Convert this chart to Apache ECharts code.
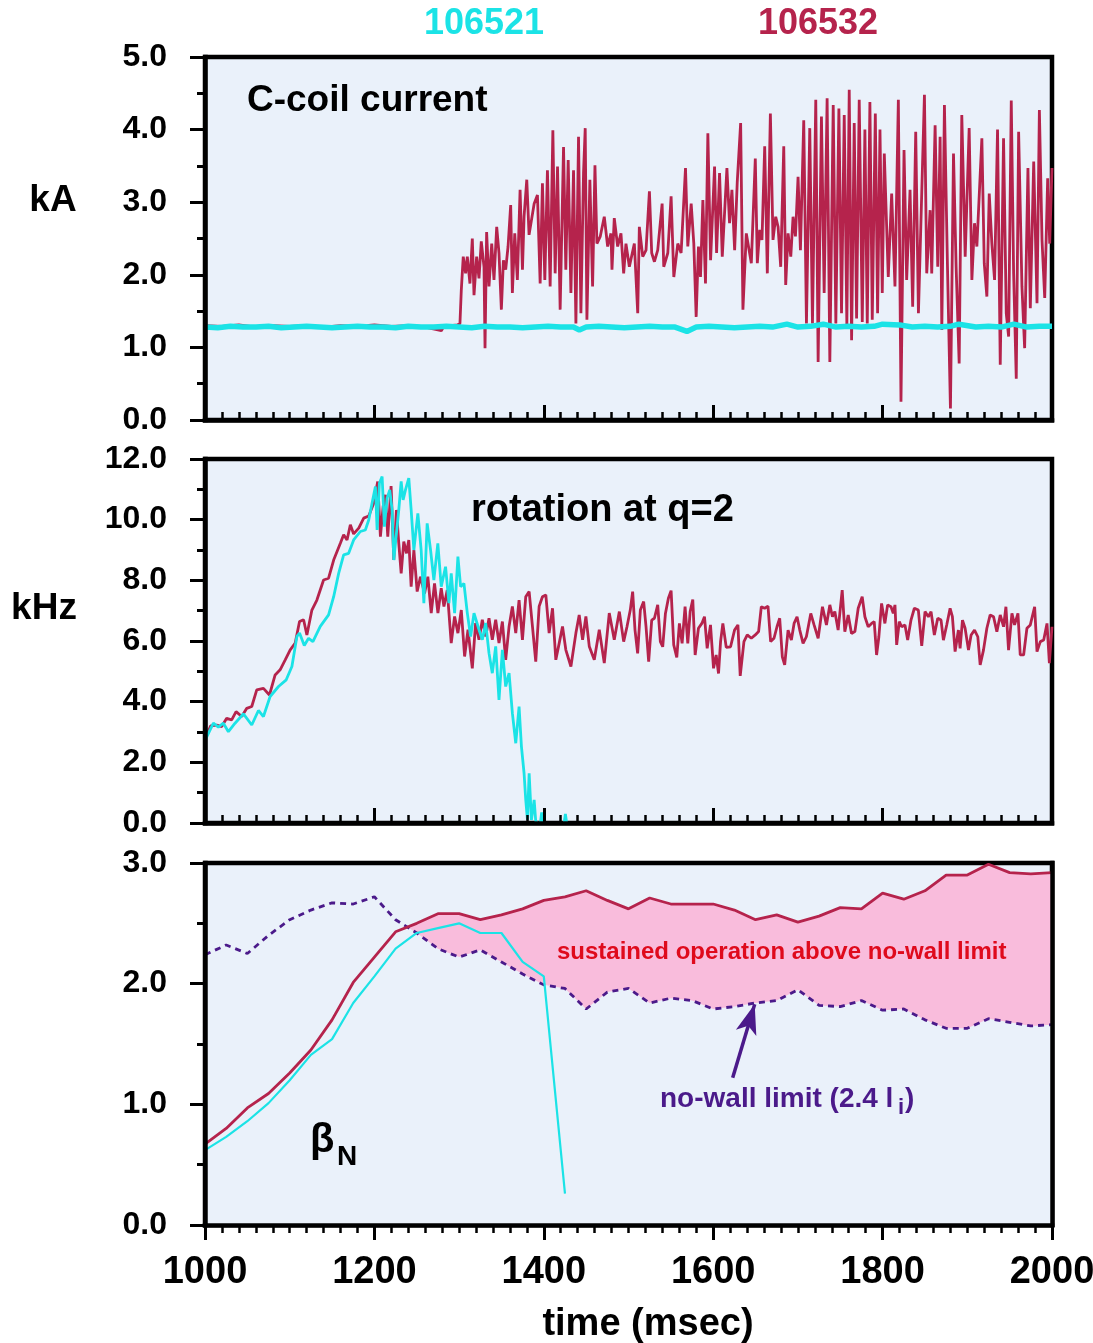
<!DOCTYPE html>
<html>
<head>
<meta charset="utf-8">
<title>C-coil current / rotation / beta_N</title>
<script src="https://cdn.jsdelivr.net/npm/echarts@6/dist/echarts.min.js"></script>
<style>
  html, body { margin: 0; padding: 0; background: #fff; }
  #main { width: 1093px; height: 1343px; }
</style>
</head>
<body>
<div id="main"></div>
<script>
// 炮号颜色
const RED = '#B5234C'
const CYAN = '#1BE3E6'
const PURPLE = '#4B1A8A'
const PANEL_BG = '#EAF1FA'
const FONT = '"Liberation Sans", Arial, Helvetica, sans-serif'

// ---- C-coil current (kA) ----
const coilT532 = [1000, 1020, 1040, 1060, 1080, 1100, 1120, 1140, 1160, 1180, 1200, 1220, 1240, 1260, 1279, 1282, 1298,
  1301.0, 1302.6, 1304.9, 1307.7, 1309.7, 1312.8, 1315.6, 1317.6, 1320.7, 1323.5, 1326.2, 1329.4, 1330.6, 1332.5, 1335.3,
  1338.5, 1341.2, 1344.4, 1347.1, 1349.9, 1352.3, 1355.0, 1357.8, 1360.9, 1362.9, 1365.7, 1368.8, 1372.0, 1374.8, 1376.7,
  1379.9, 1382.6, 1385.4, 1388.6, 1392.5, 1395.7, 1398.4, 1401.2, 1404.3, 1407.5, 1410.7, 1413.4, 1416.2, 1419.3, 1423.3,
  1426.0, 1428.8, 1432.0, 1435.1, 1437.9, 1441.0, 1443.8, 1446.9, 1448.9, 1450.9, 1454.4, 1457.6, 1460.4, 1462.7, 1466.7,
  1471.4, 1475.4, 1479.3, 1480.5, 1483.2, 1487.2, 1491.1, 1494.3, 1497.0, 1501.0, 1506.9, 1510.9, 1512.8, 1516.8, 1520.7,
  1524.7, 1527.4, 1530.6, 1534.5, 1539.7, 1541.6, 1546.4, 1550.3, 1553.5, 1558.2, 1562.1, 1567.3, 1570.0, 1574.0, 1577.1,
  1579.9, 1582.6, 1585.0, 1587.8, 1590.9, 1593.7, 1596.9, 1601.6, 1604.0, 1607.5, 1610.7, 1616.2, 1619.3, 1622.1, 1625.3,
  1628.4, 1632.4, 1635.1, 1639.1, 1645.0, 1649.7, 1652.1, 1654.9, 1657.6, 1660.8, 1663.9, 1667.5, 1670.6, 1673.8, 1676.6,
  1679.7, 1683.3, 1685.6, 1688.4, 1691.6, 1694.3, 1697.1, 1700.2, 1703.0, 1706.9, 1710.1, 1714.0, 1717.2, 1721.1, 1723.9,
  1727.8, 1731.0, 1734.5, 1737.7, 1741.7, 1744.8, 1748.4, 1751.5, 1754.7, 1757.8, 1760.6, 1763.4, 1766.5, 1769.3, 1772.4,
  1776.0, 1779.1, 1781.9, 1785.0, 1787.8, 1791.4, 1794.1, 1796.9, 1799.6, 1802.0, 1806.7, 1810.7, 1814.6, 1818.6, 1821.7,
  1825.3, 1828.4, 1832.4, 1835.5, 1839.1, 1842.3, 1849.4, 1852.1, 1856.1, 1858.0, 1862.0, 1865.1, 1867.9, 1869.9, 1873.0,
  1876.6, 1880.1, 1883.7, 1886.8, 1890.4, 1893.5, 1897.5, 1902.2, 1905.4, 1908.5, 1911.3, 1917.2, 1920.0, 1923.1, 1925.9,
  1929.0, 1932.2, 1935.7, 1938.9, 1942.8, 1946.0, 1948.8, 1951.9, 1954.7, 1957.8, 1960.6, 1964.5, 1967.7, 1971.6, 1974.4,
  1978.4, 1982.3, 1985.1, 1988.2, 1991.4, 1994.9, 1997.3, 2000]
const coilKA532 = [1.30, 1.29, 1.31, 1.28, 1.30, 1.29, 1.30, 1.28, 1.30, 1.29, 1.31, 1.29, 1.30, 1.28, 1.23, 1.29, 1.31,
  1.33, 1.79, 2.25, 2.02, 2.25, 1.88, 2.50, 1.72, 2.25, 1.95, 2.46, 2.11, 0.99, 2.59, 1.84,
  2.43, 1.93, 2.66, 2.30, 1.52, 2.20, 2.07, 2.39, 2.96, 1.75, 2.57, 1.93, 3.17, 2.07, 2.80,
  3.31, 2.55, 2.75, 2.98, 3.10, 1.88, 3.26, 1.93, 3.44, 1.84, 3.99, 2.02, 3.49, 1.52, 3.76,
  2.07, 3.58, 1.75, 3.44, 1.33, 3.90, 1.47, 3.40, 4.02, 1.38, 3.31, 1.84, 3.51, 2.43, 2.53,
  2.80, 2.39, 2.57, 2.07, 2.78, 2.39, 2.57, 2.02, 2.43, 2.11, 2.43, 1.47, 2.66, 2.25, 2.34,
  3.15, 2.30, 2.18, 2.34, 2.98, 2.11, 2.30, 3.08, 1.97, 2.43, 2.30, 3.47, 2.39, 2.98, 2.43,
  1.42, 2.39, 1.97, 3.03, 1.88, 3.95, 2.20, 3.49, 2.30, 3.40, 2.25, 3.47, 2.71, 3.17, 2.34,
  3.28, 4.09, 1.52, 2.57, 2.16, 3.60, 2.16, 2.62, 2.48, 3.77, 2.02, 4.22, 2.48, 2.80, 2.66,
  2.11, 3.77, 1.86, 2.57, 2.25, 2.80, 2.53, 3.35, 2.34, 4.13, 1.33, 4.02, 1.33, 4.41, 0.80,
  4.18, 1.75, 4.43, 0.80, 4.34, 1.33, 4.29, 1.47, 4.20, 1.31, 4.55, 1.10, 4.09, 1.40, 4.41,
  1.35, 4.00, 1.33, 4.38, 1.38, 4.22, 1.47, 4.00, 1.75, 3.67, 1.97, 3.12, 1.84, 4.41, 0.25,
  3.72, 1.93, 3.17, 1.56, 3.97, 1.47, 4.48, 2.02, 2.89, 2.02, 4.06, 2.11, 3.90, 1.24, 4.34,
  2.11, 0.16, 3.67, 2.11, 0.78, 4.20, 2.25, 4.02, 1.93, 2.71, 2.39, 3.88, 2.16, 1.70, 3.12,
  2.43, 1.93, 4.00, 0.76, 3.88, 1.47, 1.15, 4.40, 2.02, 0.57, 3.97, 1.84, 0.99, 3.47, 1.54,
  3.56, 1.61, 4.27, 2.48, 1.68, 3.33, 2.43, 3.47]

const coilT521 = [1000, 1015, 1030, 1045, 1060, 1075, 1090, 1105, 1120, 1135, 1150, 1165, 1180, 1195, 1210, 1225, 1240,
  1255, 1270, 1285, 1300, 1315, 1330, 1345, 1360, 1375, 1390, 1405, 1420, 1435, 1442, 1450, 1465, 1480, 1495, 1510,
  1525, 1540, 1555, 1569, 1580, 1595, 1610, 1625, 1640, 1655, 1670, 1687, 1700, 1715, 1730, 1745, 1760, 1775, 1790,
  1800, 1820, 1835, 1850, 1865, 1880, 1890, 1910, 1925, 1940, 1955, 1970, 1985, 2000]
const coilKA521 = [1.28, 1.27, 1.29, 1.28, 1.28, 1.29, 1.27, 1.28, 1.29, 1.28, 1.27, 1.28, 1.29, 1.28, 1.28, 1.27, 1.29,
  1.28, 1.28, 1.29, 1.28, 1.27, 1.29, 1.28, 1.28, 1.27, 1.28, 1.29, 1.28, 1.28, 1.24, 1.28, 1.29, 1.28, 1.27, 1.28,
  1.29, 1.28, 1.28, 1.22, 1.28, 1.29, 1.28, 1.27, 1.28, 1.29, 1.28, 1.32, 1.28, 1.29, 1.32, 1.28, 1.29, 1.28, 1.29,
  1.32, 1.31, 1.28, 1.29, 1.28, 1.29, 1.32, 1.28, 1.29, 1.28, 1.32, 1.28, 1.29, 1.29]

// ---- rotation at q=2 (kHz) ----
const rotT532 = [1001.2, 1006.7, 1013.8, 1019.7, 1025.6, 1031.5, 1036.7, 1043.4, 1049.3, 1055.2, 1061.1, 1069.0, 1076.1,
  1082.8, 1088.7, 1094.7, 1100.6, 1106.5, 1111.6, 1116.4, 1120.3, 1126.2, 1132.1, 1140.0, 1145.9, 1151.9, 1159.8, 1163.7,
  1167.7, 1171.6, 1175.5, 1181.5, 1187.4, 1193.3, 1199.2, 1203.9, 1207.1, 1210.3, 1213.0, 1215.8, 1219.7, 1222.9, 1226.0,
  1228.8, 1231.6, 1234.7, 1237.9, 1240.6, 1243.4, 1246.6, 1250.5, 1254.4, 1259.2, 1263.1, 1267.1, 1271.0, 1275.0, 1278.9,
  1282.1, 1286.0, 1290.7, 1294.7, 1298.6, 1302.6, 1306.5, 1310.5, 1315.6, 1319.5, 1323.5, 1327.4, 1331.4, 1335.3, 1339.2,
  1343.2, 1347.1, 1351.1, 1355.0, 1359.0, 1362.9, 1366.9, 1370.8, 1374.8, 1378.7, 1382.7, 1386.6, 1390.5, 1394.5, 1398.4,
  1402.4, 1406.3, 1410.3, 1414.2, 1418.2, 1422.1, 1426.0, 1432.0, 1437.9, 1441.8, 1445.8, 1449.7, 1453.7, 1459.6, 1465.5,
  1471.4, 1477.3, 1483.2, 1489.2, 1494.3, 1498.2, 1502.1, 1504.9, 1507.7, 1510.8, 1514.0, 1517.9, 1520.7, 1523.8, 1527.4,
  1530.6, 1534.5, 1537.6, 1540.4, 1543.6, 1547.1, 1550.3, 1553.4, 1557.0, 1560.1, 1563.3, 1566.8, 1570.0, 1572.8, 1575.9,
  1578.7, 1582.6, 1586.6, 1589.7, 1592.9, 1596.8, 1600.4, 1603.5, 1606.3, 1608.7, 1611.4, 1615.4, 1620.5, 1625.2, 1629.2,
  1631.9, 1636.3, 1640.2, 1645.0, 1649.7, 1653.6, 1656.8, 1660.7, 1664.7, 1667.8, 1671.8, 1675.3, 1678.5, 1681.6, 1684.4,
  1688.4, 1692.3, 1695.5, 1699.0, 1702.2, 1706.1, 1710.0, 1715.2, 1719.1, 1723.9, 1729.0, 1733.7, 1737.7, 1740.8, 1743.6,
  1747.5, 1749.5, 1752.3, 1755.4, 1759.4, 1763.3, 1767.3, 1771.2, 1775.9, 1779.1, 1783.0, 1787.0, 1790.1, 1792.9, 1795.6,
  1798.8, 1802.7, 1805.9, 1809.9, 1812.6, 1814.6, 1816.6, 1819.7, 1822.5, 1826.4, 1829.6, 1833.5, 1837.5, 1842.2, 1846.2,
  1850.1, 1854.0, 1857.2, 1861.1, 1865.1, 1869.0, 1871.8, 1875.7, 1879.7, 1882.4, 1885.6, 1889.5, 1891.5, 1894.3, 1897.4,
  1901.4, 1904.5, 1908.5, 1912.4, 1915.2, 1919.1, 1923.1, 1927.0, 1931.0, 1934.9, 1938.9, 1942.8, 1945.6, 1948.7, 1952.7,
  1955.8, 1959.8, 1962.5, 1966.5, 1970.4, 1974.4, 1979.5, 1982.3, 1986.2, 1990.2, 1994.1, 1996.9, 2000]
const rotKHz532 = [2.85, 3.20, 3.23, 3.18, 3.45, 3.40, 3.67, 3.51, 3.78, 3.84, 4.39, 4.44, 4.22,
  4.88, 5.05, 5.38, 5.71, 5.93, 6.64, 6.70, 6.20, 7.02, 7.35, 8.01, 8.07, 8.67, 9.22, 9.50,
  9.33, 9.83, 9.53, 9.72, 10.05, 10.12, 10.54, 11.26, 9.44, 10.43, 10.82, 9.44, 11.11, 8.67, 10.32,
  9.22, 8.23, 9.28, 8.89, 9.33, 7.79, 9.00, 7.63, 8.12, 7.57, 8.12, 6.92, 7.90, 6.92, 7.74,
  7.14, 7.68, 5.93, 6.81, 6.26, 7.02, 5.49, 6.37, 5.10, 6.59, 6.04, 6.70, 6.15, 6.75, 6.04,
  6.70, 5.93, 6.64, 5.38, 6.48, 7.14, 6.26, 7.35, 6.04, 7.46, 7.63, 6.48, 5.32, 7.14, 7.46,
  7.52, 6.26, 7.08, 5.38, 5.93, 6.48, 5.71, 5.16, 6.26, 6.86, 6.04, 6.81, 5.82, 5.38, 6.37,
  5.27, 6.92, 6.04, 6.97, 5.98, 6.47, 7.02, 7.63, 6.36, 5.59, 7.02, 7.30, 6.47, 5.32, 6.69,
  6.75, 7.19, 5.98, 5.81, 6.91, 7.41, 7.66, 5.87, 5.46, 6.58, 5.92, 7.13, 5.92, 6.97, 7.37,
  5.54, 6.42, 6.58, 6.80, 5.76, 6.53, 5.10, 5.54, 4.93, 5.98, 6.58, 5.79, 5.81, 6.36, 6.53,
  4.85, 5.98, 6.20, 6.09, 6.20, 6.31, 7.13, 7.08, 7.15, 5.98, 6.09, 6.47, 6.75, 5.48, 5.21,
  6.36, 6.03, 6.58, 6.80, 6.36, 5.92, 6.14, 6.91, 6.53, 6.09, 7.13, 6.53, 7.19, 6.80, 6.97,
  6.36, 6.91, 7.68, 6.31, 6.86, 6.25, 6.31, 7.08, 7.46, 6.80, 6.47, 6.58, 6.64, 5.54, 6.14,
  7.24, 6.58, 7.19, 7.13, 6.91, 7.19, 5.87, 6.64, 6.47, 6.53, 6.03, 6.69, 7.08, 7.02, 5.84,
  6.97, 6.80, 6.97, 6.20, 6.75, 6.69, 6.03, 6.53, 7.08, 6.80, 5.65, 6.36, 5.76, 6.69, 6.42,
  5.70, 6.20, 6.36, 6.14, 5.21, 5.70, 6.42, 6.86, 6.80, 6.31, 6.86, 6.47, 7.13, 5.70, 6.91,
  6.53, 6.91, 5.54, 5.54, 6.42, 6.53, 7.13, 5.65, 5.98, 6.03, 6.58, 5.27, 6.47]

const rotT521 = [1001.2, 1009.9, 1015.8, 1021.7, 1027.6, 1035.5, 1045.4, 1055.2, 1063.1, 1069.0, 1076.9, 1086.8, 1095.9,
  1102.6, 1108.5, 1111.6, 1117.2, 1122.3, 1127.4, 1136.1, 1145.9, 1151.9, 1157.8, 1163.7, 1169.6, 1175.5, 1183.4, 1189.3,
  1193.3, 1197.2, 1201.2, 1203.2, 1205.9, 1209.1, 1211.8, 1215.0, 1218.1, 1220.9, 1222.9, 1226.0, 1228.8, 1231.6, 1233.9,
  1236.7, 1240.6, 1243.4, 1246.6, 1251.3, 1255.2, 1258.4, 1262.3, 1266.3, 1270.2, 1274.9, 1278.9, 1284.0, 1288.0, 1290.7,
  1294.7, 1298.6, 1301.8, 1305.7, 1309.7, 1313.6, 1317.6, 1323.5, 1327.4, 1331.4, 1335.3, 1339.2, 1343.2, 1347.1, 1351.1,
  1355.0, 1359.0, 1362.9, 1366.9, 1370.8, 1373.6, 1376.7, 1378.7, 1380.7, 1382.7, 1385.4, 1388.6, 1390.5, 1393.0, 1394.0,
  1396.0, 1397.5, 1399.0, 1400.0, 1424.0, 1425.5, 1427.0]
const rotKHz521 = [2.79, 3.29, 3.16, 3.29, 3.01, 3.29, 3.60, 3.23, 3.71, 3.51, 4.17, 4.50, 4.72,
  5.16, 6.15, 6.26, 5.85, 6.09, 5.98, 6.48, 6.86, 7.46, 8.23, 8.84, 8.89, 9.33, 9.61, 9.66,
  9.99, 10.54, 11.09, 9.66, 11.20, 11.42, 9.77, 10.71, 10.98, 10.32, 8.67, 9.55, 10.32, 11.26, 10.65,
  10.98, 11.37, 10.32, 9.00, 10.21, 9.00, 7.25, 9.88, 9.00, 8.01, 9.22, 7.79, 8.45, 7.25, 8.23,
  6.92, 8.78, 7.79, 7.90, 6.92, 6.15, 6.92, 6.37, 6.04, 6.59, 5.60, 4.94, 5.82, 4.06, 5.71,
  4.50, 4.94, 3.62, 2.63, 3.84, 2.52, 1.64, 0.76, 0.10, 1.64, 0.10, 0.76, 0.05, 0.00, null,
  0.00, 0.35, 0.00, null, 0.00, 0.30, 0.00]

// ---- beta_N ----
const betaT = [1000, 1025, 1050, 1075, 1100, 1125, 1150, 1175, 1200, 1225, 1250, 1275, 1300, 1325, 1350, 1375, 1400,
  1425, 1450, 1475, 1500, 1525, 1550, 1575, 1600, 1625, 1650, 1675, 1700, 1725, 1750, 1775, 1800, 1825, 1850, 1875,
  1900, 1925, 1950, 1975, 2000]
const betaN532 = [0.67, 0.80, 0.97, 1.09, 1.26, 1.45, 1.70, 2.01, 2.22, 2.43, 2.50, 2.58, 2.58, 2.53, 2.57, 2.62, 2.69,
  2.72, 2.77, 2.69, 2.62, 2.71, 2.66, 2.66, 2.66, 2.61, 2.53, 2.57, 2.51, 2.56, 2.63, 2.62, 2.75, 2.70, 2.77, 2.90,
  2.90, 2.99, 2.92, 2.91, 2.92]
const betaN521 = [0.62, 0.73, 0.86, 1.01, 1.20, 1.41, 1.54, 1.84, 2.06, 2.29, 2.42, 2.46, 2.50, 2.42, 2.42, 2.18, 2.06,
  0.26]
// no-wall limit (2.4 li)
const noWall = [2.24, 2.32, 2.25, 2.40, 2.53, 2.61, 2.67, 2.66, 2.72, 2.53, 2.42, 2.29, 2.22, 2.28, 2.18, 2.08, 1.99,
  1.96, 1.79, 1.93, 1.96, 1.84, 1.88, 1.86, 1.79, 1.81, 1.84, 1.86, 1.95, 1.82, 1.81, 1.86, 1.78, 1.79, 1.70, 1.63,
  1.63, 1.71, 1.68, 1.65, 1.66]

const pairs = (ts, vs) => ts.map((t, i) => [t, vs[i]])

const gridBox = (top, height) => ({
  left: 205, top, width: 847, height, outerBoundsMode: 'none', containLabel: false,
  show: true, backgroundColor: PANEL_BG, borderColor: '#000', borderWidth: 4.5
})

const frameLine = { show: true, onZero: false, lineStyle: { color: '#000', width: 4.5, cap: 'square' } }

const xAx = (gi, bottom) => ({
  type: 'value', gridIndex: gi, min: 1000, max: 2000, interval: 200, z: 10,
  axisLine: frameLine,
  splitLine: { show: false },
  axisTick: { show: true, inside: !bottom, length: 15, lineStyle: { color: '#000', width: 3 } },
  minorTick: { show: true, splitNumber: 10, length: 8, lineStyle: { color: '#000', width: 2.5 } },
  axisLabel: {
    show: bottom, formatter: (v) => String(v), fontSize: 38, fontWeight: 'bold', fontFamily: FONT,
    color: '#000', margin: 29, showMinLabel: true, showMaxLabel: true
  }
})

const yAx = (gi, max, step) => ({
  type: 'value', gridIndex: gi, min: 0, max, interval: step, z: 10,
  axisLine: frameLine,
  splitLine: { show: false },
  axisTick: { show: true, length: 15, lineStyle: { color: '#000', width: 3 } },
  minorTick: { show: true, splitNumber: 2, length: 8, lineStyle: { color: '#000', width: 3 } },
  axisLabel: {
    formatter: (v) => v.toFixed(1), fontSize: 32, fontWeight: 'bold', fontFamily: FONT, color: '#000',
    margin: 38, showMinLabel: true, showMaxLabel: true
  }
})

const line = (name, gi, data, color, width, z) => ({
  name, type: 'line', xAxisIndex: gi, yAxisIndex: gi, data,
  showSymbol: false, symbol: 'none', connectNulls: false,
  lineStyle: { color, width }, itemStyle: { color }, z
})

const txt = (text, x, y, size, color, align) => ({
  type: 'text', x, y, z: 100,
  style: {
    text, fill: color, font: 'bold ' + size + 'px ' + FONT,
    textAlign: align || 'left', textVerticalAlign: 'middle', align: align || 'left', verticalAlign: 'middle'
  }
})

const chart = echarts.init(document.getElementById('main'))

const option = {
  animation: false,
  backgroundColor: '#fff',
  grid: [gridBox(57, 363), gridBox(459, 364), gridBox(863, 362)],
  xAxis: [xAx(0, false), xAx(1, false), xAx(2, true)],
  yAxis: [
    yAx(0, 5, 1), yAx(1, 12, 2), yAx(2, 3, 1),
    // 第三张图右侧边框（压在粉色区域上面）
    {
      type: 'value', gridIndex: 2, position: 'right', min: 0, max: 3, z: 10,
      axisLine: frameLine, axisTick: { show: false }, axisLabel: { show: false }, splitLine: { show: false }
    }
  ],
  series: [
    line('106532', 0, pairs(coilT532, coilKA532), RED, 2.8, 3),
    line('106521', 0, pairs(coilT521, coilKA521), CYAN, 5.5, 4),
    line('106532', 1, pairs(rotT532, rotKHz532), RED, 2.8, 3),
    line('106521', 1, pairs(rotT521, rotKHz521), CYAN, 2.8, 4),
    // 粉色区域：106532 beta_N 以下填粉色，再用底色盖住无壁极限以下部分
    {
      type: 'line', xAxisIndex: 2, yAxisIndex: 2, data: pairs(betaT, betaN532),
      showSymbol: false, symbol: 'none', lineStyle: { width: 0, opacity: 0 },
      areaStyle: { color: '#F9BCDC', opacity: 1 }, z: 1, silent: true
    },
    {
      type: 'line', xAxisIndex: 2, yAxisIndex: 2, data: pairs(betaT, noWall),
      showSymbol: false, symbol: 'none', lineStyle: { width: 0, opacity: 0 },
      areaStyle: { color: PANEL_BG, opacity: 1 }, z: 2, silent: true
    },
    {
      ...line('no-wall limit', 2, pairs(betaT, noWall), PURPLE, 2.8, 3),
      lineStyle: { color: PURPLE, width: 2.8, type: [6, 5] },
      markLine: {
        silent: true, symbol: ['none', 'arrow'], symbolSize: [16, 30],
        lineStyle: { color: PURPLE, width: 3.5, type: 'solid' },
        label: { show: false },
        data: [[{ coord: [1623, 1.22] }, { coord: [1649, 1.83] }]]
      }
    },
    line('106532', 2, pairs(betaT, betaN532), RED, 2.8, 4),
    line('106521', 2, pairs(betaT.slice(0, betaN521.length), betaN521), CYAN, 2.2, 5)
  ],
  graphic: [
    txt('106521', 484, 24, 36, CYAN, 'center'),
    txt('106532', 818, 24, 36, RED, 'center'),
    txt('C-coil current', 247, 101, 37, '#000'),
    txt('kA', 53, 201, 37, '#000', 'center'),
    txt('rotation at q=2', 471, 511, 38, '#000'),
    txt('kHz', 44, 609, 37, '#000', 'center'),
    txt('sustained operation above no-wall limit', 557, 952, 24, '#DF0A1C'),
    txt('no-wall limit (2.4 l', 660, 1099, 28, PURPLE),
    txt('i', 898, 1108, 22, PURPLE),
    txt(')', 905, 1099, 28, PURPLE),
    txt('β', 310, 1141, 40, '#000'),
    txt('N', 337, 1157, 28, '#000'),
    txt('time (msec)', 648, 1325, 38, '#000', 'center')
  ]
}

option && chart.setOption(option)
</script>
</body>
</html>
